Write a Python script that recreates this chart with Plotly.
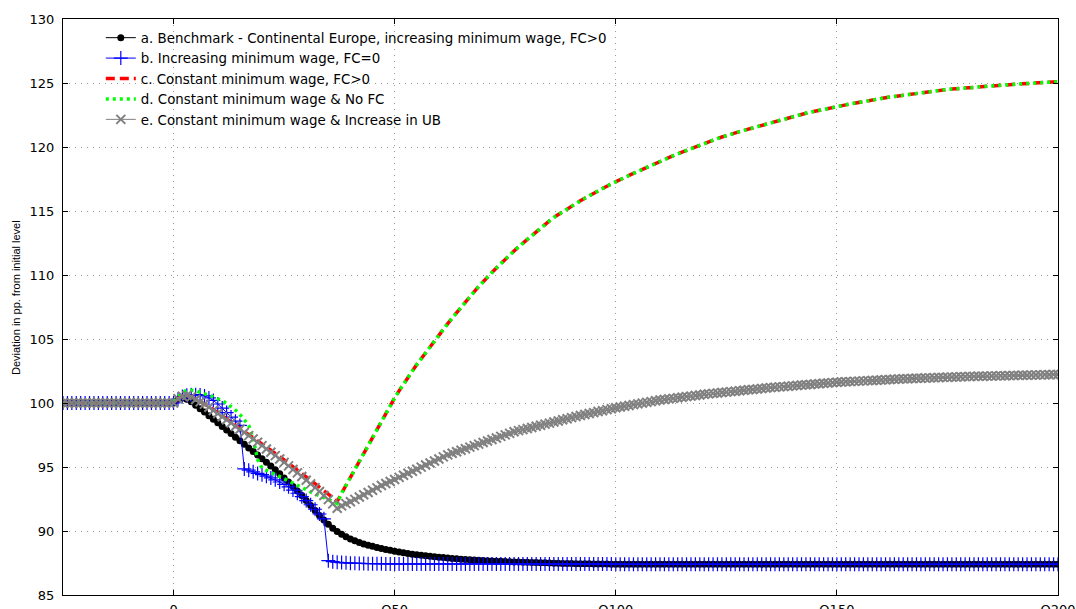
import plotly.graph_objects as go

# ---------------- data ----------------
quarters = list(range(-25, 201))
tick_vals = [0, 50, 100, 150, 200]
tick_text = ["0", "Q50", "Q100", "Q150", "Q200"]

pre_shock = [100.0] * 25  # quarters -25 .. -1

# a. Benchmark (x = 0 .. 200)
a_bench = [
    100.0, 100.3, 100.4, 100.3, 100.1, 99.82, 99.56, 99.29, 99.01, 98.73,
    98.45, 98.17, 97.89, 97.61, 97.33, 97.05, 96.77, 96.49, 96.21, 95.93,
    95.65, 95.37, 95.08, 94.78, 94.47, 94.15, 93.82, 93.48, 93.13, 92.77,
    92.39, 92.0, 91.61, 91.22, 90.85, 90.52, 90.22, 89.96, 89.74, 89.55,
    89.38, 89.23, 89.1, 88.99, 88.89, 88.8, 88.72, 88.64, 88.56, 88.49,
    88.42, 88.36, 88.3, 88.24, 88.19, 88.14, 88.1, 88.06, 88.02, 87.98,
    87.95, 87.92, 87.89, 87.86, 87.83, 87.8, 87.78, 87.76, 87.74, 87.72,
    87.7, 87.68, 87.66, 87.64, 87.63, 87.61, 87.6, 87.58, 87.57, 87.56,
    87.55, 87.54, 87.53, 87.52, 87.51, 87.5, 87.49, 87.48, 87.47, 87.46,
    87.46, 87.45, 87.45, 87.44, 87.44, 87.43, 87.43, 87.42, 87.42, 87.41,
] + [87.4] * 101

# b. Increasing minimum wage, FC=0 (x = 0 .. 200)
b_incr = [
    100.0, 100.3, 100.5, 100.6, 100.65, 100.65, 100.62, 100.55, 100.4, 100.2,
    99.92, 99.6, 99.25, 98.9, 98.58, 98.25, 94.85, 94.75, 94.62, 94.5,
    94.4, 94.28, 94.15, 94.0, 93.83, 93.65, 93.45, 93.2, 92.95, 92.68,
    92.38, 92.05, 91.7, 91.33, 90.95, 87.68, 87.6, 87.56, 87.53, 87.51,
    87.49, 87.48, 87.47, 87.46, 87.45, 87.45, 87.44, 87.44, 87.43, 87.43,
] + [87.42] * 50 + [87.4] * 101

# c. Constant minimum wage, FC>0 (x = 0 .. 37)
c_fall = [
    100.0, 100.35, 100.55, 100.6, 100.5, 100.3, 100.12, 99.95, 99.72, 99.48,
    99.24, 99.0, 98.77, 98.53, 98.29, 98.05, 97.81, 97.57, 97.32, 97.07,
    96.82, 96.57, 96.32, 96.07, 95.82, 95.56, 95.3, 95.04, 94.78, 94.52,
    94.25, 93.98, 93.71, 93.44, 93.16, 92.88, 92.59, 92.3,
]

# c./d. common recovery path (x = 38 .. 200)
rise_cd = [
    92.95, 93.58,
    94.2, 94.83, 95.46, 96.1, 96.73, 97.36, 98.0, 98.62, 99.24, 99.85,
    100.4, 100.95, 101.5, 102.0, 102.5, 103.0, 103.47, 103.94, 104.4, 104.85,
    105.3, 105.75, 106.2, 106.63, 107.06, 107.48, 107.9, 108.3, 108.7, 109.1,
    109.5, 109.85, 110.2, 110.55, 110.9, 111.23, 111.56, 111.88, 112.2, 112.5,
    112.8, 113.1, 113.4, 113.68, 113.96, 114.23, 114.5, 114.73, 114.96, 115.18,
    115.4, 115.6, 115.8, 116.0, 116.2, 116.4, 116.58, 116.76, 116.94, 117.12,
    117.3, 117.46, 117.62, 117.78, 117.94, 118.1, 118.26, 118.42, 118.58, 118.74,
    118.9, 119.04, 119.18, 119.32, 119.46, 119.6, 119.74, 119.88, 120.02, 120.16,
    120.3, 120.42, 120.54, 120.66, 120.78, 120.9, 121.0, 121.1, 121.2, 121.3,
    121.4, 121.5, 121.6, 121.7, 121.8, 121.9, 122.0, 122.1, 122.2, 122.3,
    122.4, 122.48, 122.56, 122.64, 122.72, 122.8, 122.87, 122.94, 123.01, 123.08,
    123.15, 123.22, 123.29, 123.36, 123.43, 123.5, 123.56, 123.62, 123.68, 123.74,
    123.8, 123.85, 123.9, 123.95, 124.0, 124.05, 124.1, 124.15, 124.2, 124.25,
    124.3, 124.34, 124.38, 124.42, 124.46, 124.5, 124.53, 124.56, 124.59, 124.62,
    124.65, 124.68, 124.71, 124.74, 124.77, 124.8, 124.82, 124.84, 124.86, 124.88,
    124.9, 124.92, 124.94, 124.96, 124.98, 125.0, 125.02, 125.04, 125.06, 125.08,
    125.1,
]

# d. Constant minimum wage & No FC (x = 0 .. 37)
d_fall = [
    100.0, 100.5, 100.85, 100.98, 101.0, 100.95, 100.85, 100.72, 100.6, 100.47,
    100.35, 100.18, 99.98, 99.75, 99.45, 99.1, 98.72, 98.26, 97.2, 95.6,
    94.9, 94.72, 94.58, 94.42, 94.25, 94.08, 93.9, 93.72, 93.55, 93.38,
    93.22, 93.06, 92.9, 92.75, 92.6, 92.45, 92.3, 92.15,
]

# e. Constant minimum wage & Increase in UB (x = 0 .. 37, then 38 .. 200)
e_fall = [
    100.0, 100.33, 100.53, 100.58, 100.48, 100.28, 100.09, 99.91, 99.67, 99.42,
    99.18, 98.93, 98.69, 98.44, 98.19, 97.95, 97.7, 97.45, 97.19, 96.93,
    96.67, 96.41, 96.15, 95.89, 95.63, 95.36, 95.09, 94.81, 94.54, 94.26,
    93.97, 93.68, 93.39, 93.09, 92.77, 92.45, 92.12, 91.78,
]
e_rise = [
    91.96, 92.14,
    92.29, 92.47, 92.65, 92.83, 93.01, 93.19, 93.37, 93.55, 93.71, 93.87,
    94.03, 94.19, 94.35, 94.51, 94.67, 94.83, 94.99, 95.15, 95.31, 95.47,
    95.63, 95.79, 95.95, 96.07, 96.19, 96.31, 96.43, 96.55, 96.67, 96.79,
    96.91, 97.03, 97.15, 97.27, 97.39, 97.51, 97.63, 97.75, 97.84, 97.92,
    98.01, 98.09, 98.18, 98.26, 98.35, 98.43, 98.52, 98.6, 98.69, 98.77,
    98.86, 98.94, 99.03, 99.1, 99.18, 99.25, 99.33, 99.4, 99.48, 99.55,
    99.63, 99.69, 99.75, 99.81, 99.87, 99.93, 99.99, 100.05, 100.11, 100.17,
    100.23, 100.27, 100.32, 100.36, 100.41, 100.45, 100.5, 100.54, 100.59, 100.63,
    100.68, 100.71, 100.75, 100.78, 100.82, 100.85, 100.89, 100.92, 100.96, 100.99,
    101.03, 101.06, 101.1, 101.13, 101.17, 101.2, 101.23, 101.26, 101.28, 101.31,
    101.34, 101.37, 101.4, 101.42, 101.45, 101.48, 101.51, 101.54, 101.56, 101.59,
    101.62, 101.64, 101.66, 101.67, 101.69, 101.71, 101.73, 101.75, 101.76, 101.78,
    101.8, 101.82, 101.84, 101.85, 101.87, 101.89, 101.9, 101.91, 101.93, 101.94,
    101.95, 101.96, 101.97, 101.99, 102.0, 102.01, 102.02, 102.03, 102.05, 102.06,
    102.07, 102.08, 102.09, 102.09, 102.1, 102.11, 102.12, 102.13, 102.13, 102.14,
    102.15, 102.16, 102.17, 102.17, 102.18, 102.19, 102.2, 102.21, 102.21, 102.22,
    102.23,
]

names = [
    "a. Benchmark - Continental Europe, increasing minimum wage, FC>0",
    "b. Increasing minimum wage, FC=0",
    "c. Constant minimum wage, FC>0",
    "d. Constant minimum wage & No FC",
    "e. Constant minimum wage & Increase in UB",
]

series_a = pre_shock + a_bench
series_b = pre_shock + b_incr
series_c = pre_shock + c_fall + rise_cd
series_d = pre_shock + d_fall + rise_cd
series_e = pre_shock + e_fall + e_rise

# ---------------- figure ----------------
fig = go.Figure()
fig.add_trace(go.Scatter(
    x=quarters, y=series_a, name=names[0], mode="lines+markers",
    line=dict(color="black", width=1),
    marker=dict(symbol="circle", size=7, color="black"),
))
fig.add_trace(go.Scatter(
    x=quarters, y=series_b, name=names[1], mode="lines+markers",
    line=dict(color="#0000ff", width=1),
    marker=dict(symbol="cross-thin", size=10, color="#0000ff",
                line=dict(color="#0000ff", width=1.2)),
))
fig.add_trace(go.Scatter(
    x=quarters, y=series_c, name=names[2], mode="lines",
    line=dict(color="#ff0000", width=3.5, dash="9px,5px"),
))
fig.add_trace(go.Scatter(
    x=quarters, y=series_d, name=names[3], mode="lines",
    line=dict(color="#00ff00", width=3.5, dash="3px,4px"),
))
fig.add_trace(go.Scatter(
    x=quarters, y=series_e, name=names[4], mode="lines+markers",
    line=dict(color="#808080", width=1),
    marker=dict(symbol="x-thin", size=9, color="#808080",
                line=dict(color="#808080", width=2)),
))

axis_common = dict(
    showline=True, linecolor="black", linewidth=1, mirror="ticks",
    ticks="inside", ticklen=5, tickcolor="black", tickwidth=1,
    showgrid=True, gridcolor="#9a9a9a", gridwidth=1, griddash="1px,5px",
    zeroline=False, automargin=False, tickfont=dict(size=13, color="black"),
)

fig.update_layout(
    width=1076, height=609,
    margin=dict(l=63, r=18, t=19, b=14),
    paper_bgcolor="white", plot_bgcolor="white",
    font=dict(family="DejaVu Sans, Liberation Sans, Arial, sans-serif", size=13, color="black"),
    xaxis=dict(range=[-25, 200], tickvals=tick_vals, ticktext=tick_text,
               ticklabelstandoff=2, **axis_common),
    yaxis=dict(range=[85, 130], dtick=5, ticklabelstandoff=5, **axis_common),
    legend=dict(x=0.038, y=0.994, xanchor="left", yanchor="top",
                bgcolor="rgba(0,0,0,0)", borderwidth=0,
                font=dict(size=13.4, color="black"), itemwidth=30,
                tracegroupgap=0),
    showlegend=True,
    annotations=[dict(
        text="Deviation in pp. from initial level", textangle=-90,
        xref="paper", yref="paper", x=-0.047, y=0.516,
        xanchor="center", yanchor="middle", showarrow=False,
        font=dict(family="Liberation Sans, Arial, sans-serif", size=11, color="black"),
    )],
)

fig.write_html(
    "out.html",
    config={"displayModeBar": False},
    post_script="document.body.style.margin='0';document.body.style.overflow='hidden';",
)
